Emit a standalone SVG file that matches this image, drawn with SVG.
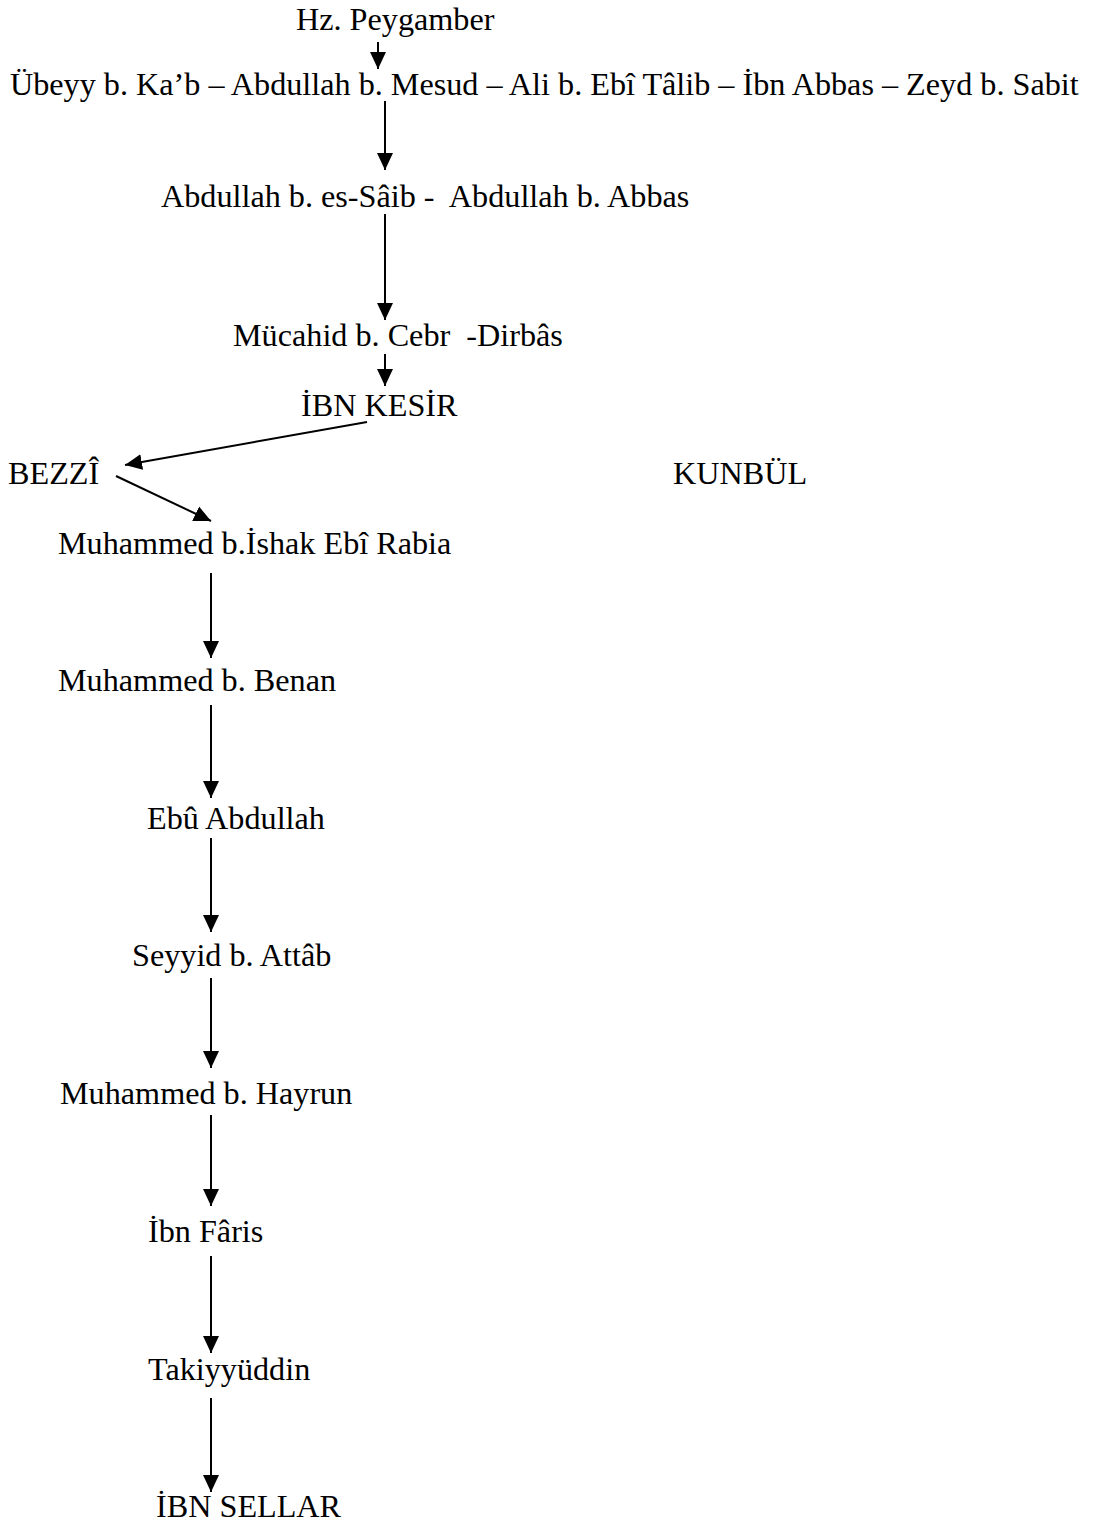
<svg xmlns="http://www.w3.org/2000/svg" width="1094" height="1526" viewBox="0 0 1094 1526">
<style>
text{font-family:"Liberation Serif","Times New Roman",serif;font-size:32.2px;fill:#000}
.c line{stroke:#000;stroke-width:2;marker-end:url(#ah)}
</style>
<defs>
<marker id="ah" markerUnits="userSpaceOnUse" markerWidth="17" markerHeight="17" refX="17" refY="8.5" orient="auto">
<path d="M0,0.5 L17,8.5 L0,16.5 z" fill="#000"/>
</marker>
</defs>
<rect width="1094" height="1526" fill="#fff"/>
<g class="c" id="connectors">
<line x1="378" y1="42" x2="378" y2="69"/>
<line x1="385" y1="101" x2="385" y2="170"/>
<line x1="385" y1="214" x2="385" y2="320"/>
<line x1="385" y1="354" x2="385" y2="386"/>
<line x1="367" y1="422" x2="125" y2="465"/>
<line x1="116" y1="476" x2="211" y2="521"/>
<line x1="211" y1="573" x2="211" y2="658"/>
<line x1="211" y1="705" x2="211" y2="798"/>
<line x1="211" y1="838" x2="211" y2="932"/>
<line x1="211" y1="978" x2="211" y2="1068"/>
<line x1="211" y1="1115" x2="211" y2="1206"/>
<line x1="211" y1="1256" x2="211" y2="1353"/>
<line x1="211" y1="1398" x2="211" y2="1492"/>
</g>
<g id="n1"><text x="296" y="30">Hz. Peygamber</text></g>
<g id="n2"><text x="10" y="95">Übeyy b. Ka’b – Abdullah b. Mesud – Ali b. Ebî Tâlib – İbn Abbas – Zeyd b. Sabit</text></g>
<g id="n3"><text x="161" y="207" xml:space="preserve">Abdullah b. es-Sâib -  Abdullah b. Abbas</text></g>
<g id="n4"><text x="233" y="346" xml:space="preserve">Mücahid b. Cebr  -Dirbâs</text></g>
<g id="n5"><text x="301" y="416">İBN KESİR</text></g>
<g id="n6"><text x="8" y="484">BEZZÎ</text></g>
<g id="n7"><text x="673" y="484">KUNBÜL</text></g>
<g id="n8"><text x="58" y="554">Muhammed b.İshak Ebî Rabia</text></g>
<g id="n9"><text x="58" y="691">Muhammed b. Benan</text></g>
<g id="n10"><text x="147" y="829">Ebû Abdullah</text></g>
<g id="n11"><text x="132" y="966">Seyyid b. Attâb</text></g>
<g id="n12"><text x="60" y="1104">Muhammed b. Hayrun</text></g>
<g id="n13"><text x="148" y="1242">İbn Fâris</text></g>
<g id="n14"><text x="148" y="1380">Takiyyüddin</text></g>
<g id="n15"><text x="156" y="1517">İBN SELLAR</text></g>
</svg>
